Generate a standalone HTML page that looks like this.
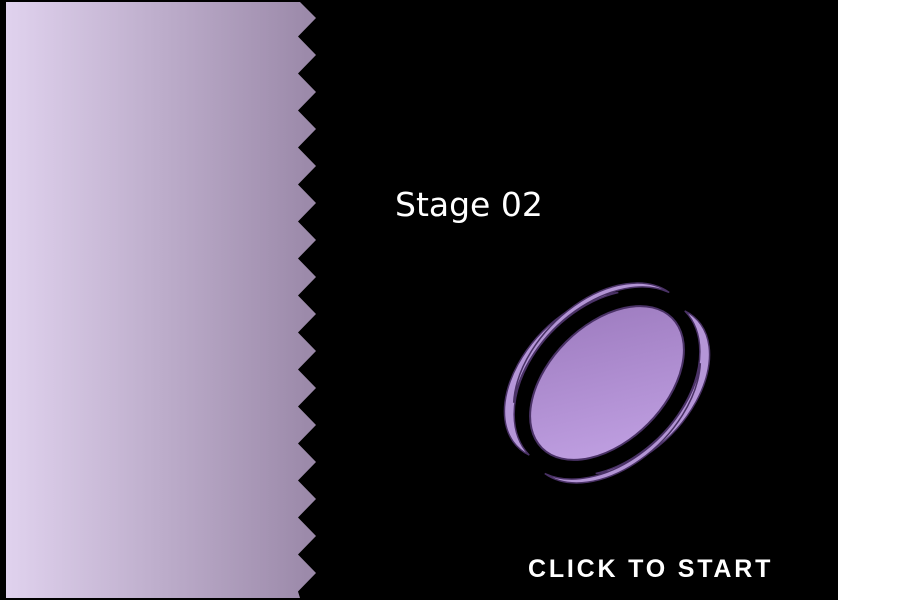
<!DOCTYPE html>
<html><head><meta charset="utf-8">
<style>
html,body{margin:0;padding:0;background:#fff;}
#stage{position:relative;width:900px;height:600px;overflow:hidden;background:#fff;}
svg{position:absolute;left:0;top:0;}
</style></head>
<body>
<div id="stage">
<svg width="900" height="600" viewBox="0 0 900 600">
  <defs>
    <linearGradient id="pg" x1="0" x2="1" y1="0" y2="0">
      <stop offset="0" stop-color="#e0d2ee"/>
      <stop offset="1" stop-color="#9a88a8"/>
    </linearGradient>
    <linearGradient id="lg" x1="0" x2="1" y1="1" y2="0">
      <stop offset="0" stop-color="#c4a4e6"/>
      <stop offset="1" stop-color="#9a78bc"/>
    </linearGradient>
  </defs>
  <rect x="0" y="0" width="838" height="600" fill="#000"/>
  <polygon id="panel" fill="url(#pg)"/>
  <text x="395" y="216" fill="#fff" font-family="'DejaVu Sans','Liberation Sans',sans-serif" font-size="33">Stage 02</text>
  <g>
    <g transform="translate(607,383) rotate(-45)">
      <path d="M-106,-4 A106,72 0 0 1 72,-56 A100,64 0 0 0 -106,-4 Z" fill="#b596d8" stroke="#4a3266" stroke-width="1.5"/>
      <path d="M106,4 A106,72 0 0 1 -72,56 A100,64 0 0 0 106,4 Z" fill="#b596d8" stroke="#4a3266" stroke-width="1.5"/>
      <path d="M-80,-52 A110,73 0 0 1 108,-20 A104,67 0 0 0 -80,-52 Z" fill="#b294d4" stroke="#4a3266" stroke-width="1.5"/>
      <path d="M80,52 A110,73 0 0 1 -108,20 A104,67 0 0 0 80,52 Z" fill="#b294d4" stroke="#4a3266" stroke-width="1.5"/>
      <ellipse cx="0" cy="0" rx="92" ry="58" fill="url(#lg)" stroke="#4a3266" stroke-width="2"/>
    </g>
  </g>
  <text x="528" y="577" fill="#fff" font-family="'Liberation Sans',Arial,sans-serif" font-weight="bold" font-size="25" letter-spacing="2.8">CLICK TO START</text>
</svg>
</div>
<script>
var pts=["6,2","300,2","316,18"];
var y=18,p=0;
while(y<590){y+=18.5;p=1-p;pts.push((p?298:316)+","+Math.min(y,598));}
pts.push("300,598","6,598");
document.getElementById('panel').setAttribute('points',pts.join(' '));
</script>
</body></html>
